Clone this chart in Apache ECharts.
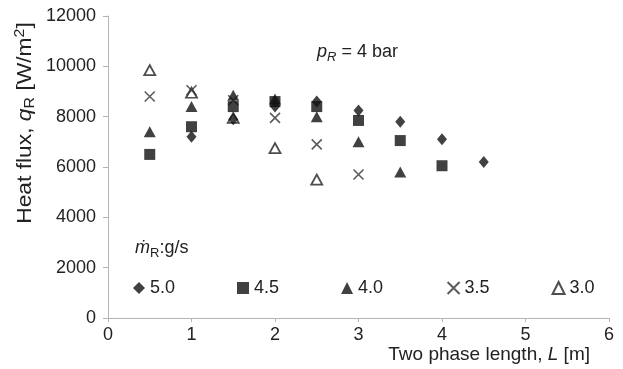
<!DOCTYPE html>
<html>
<head>
<meta charset="utf-8">
<script src="https://cdn.jsdelivr.net/npm/echarts@6/dist/echarts.min.js"></script>
<style>
  html, body { margin: 0; padding: 0; background: #fff; }
  #main { width: 623px; height: 369px; }
</style>
</head>
<body>
<div id="main"></div>
<script>
// 两相长度 L [m] 与热流密度 q_R [W/m2] 的数据
var lenFive = [1, 1.5, 2, 2.5, 3, 3.5, 4, 4.5];
var fluxFive = [7200, 7900, 8400, 8600, 8250, 7800, 7100, 6200];

var lenFourHalf = [0.5, 1, 1.5, 2, 2.5, 3, 3.5, 4];
var fluxFourHalf = [6500, 7600, 8400, 8600, 8400, 7850, 7050, 6050];

var lenFour = [0.5, 1, 1.5, 2, 2.5, 3, 3.5];
var fluxFour = [7400, 8400, 8850, 8700, 8000, 7000, 5800];

var lenThreeHalf = [0.5, 1, 1.5, 2, 2.5, 3];
var fluxThreeHalf = [8800, 9050, 8650, 7950, 6900, 5700];

var lenThree = [0.5, 1, 1.5, 2, 2.5];
var fluxThree = [9850, 8950, 7950, 6750, 5500];

var seriesNames = ['5.0', '4.5', '4.0', '3.5', '3.0'];
var xTicks = [0, 1, 2, 3, 4, 5, 6];
var yTicks = [0, 2000, 4000, 6000, 8000, 10000, 12000];

function pairs(xs, ys) {
  return xs.map(function (x, i) { return [x, ys[i]]; });
}

var crossPath = 'path://M0,0L10,10M10,0L0,10';
var fontName = '"Liberation Sans", Arial, sans-serif';
var txtColor = '#222';

var myChart = echarts.init(document.getElementById('main'));

var option = {
  animation: false,
  textStyle: { fontFamily: fontName },
  grid: { left: 108, right: 14, top: 16, bottom: 51 },
  legend: {
    data: seriesNames,
    left: 128,
    top: 274,
    itemWidth: 12,
    itemHeight: 12,
    itemGap: 62,
    textStyle: { fontSize: 18, color: txtColor, fontFamily: fontName }
  },
  xAxis: {
    type: 'value',
    min: xTicks[0],
    max: xTicks[xTicks.length - 1],
    interval: 1,
    splitLine: { show: false },
    axisLine: { lineStyle: { color: '#b4b4b4' } },
    axisTick: { length: 4, lineStyle: { color: '#b4b4b4' } },
    axisLabel: { fontSize: 18, color: txtColor, margin: 8 }
  },
  yAxis: {
    type: 'value',
    min: yTicks[0],
    max: yTicks[yTicks.length - 1],
    interval: 2000,
    splitLine: { show: false },
    axisLine: { show: true, lineStyle: { color: '#b4b4b4' } },
    axisTick: { show: true, length: 5, lineStyle: { color: '#b4b4b4' } },
    axisLabel: {
      fontSize: 18,
      color: txtColor,
      margin: 12,
      formatter: function (v) { return String(v); }
    }
  },
  graphic: [
    {
      type: 'text',
      x: 25,
      y: 123,
      rotation: Math.PI / 2,
      scaleX: 1.14,
      style: {
        text: 'Heat flux, {i|q}{sub|R} [W/m{sup|2}]',
        fontSize: 20,
        fontFamily: fontName,
        fill: txtColor,
        align: 'center',
        verticalAlign: 'middle',
        rich: {
          i: { fontSize: 20, fontStyle: 'italic', fontFamily: fontName, color: txtColor },
          sub: { fontSize: 14, fontFamily: fontName, color: txtColor, padding: [10, 0, 0, 0] },
          sup: { fontSize: 14, fontFamily: fontName, color: txtColor, padding: [0, 0, 9, 0] }
        }
      }
    },
    {
      type: 'text',
      x: 590,
      y: 355,
      style: {
        text: 'Two phase length, {i|L} [m]',
        fontSize: 19,
        fontFamily: fontName,
        fill: txtColor,
        align: 'right',
        verticalAlign: 'middle',
        rich: {
          i: { fontSize: 19, fontStyle: 'italic', fontFamily: fontName, color: txtColor }
        }
      }
    },
    {
      type: 'text',
      x: 317,
      y: 52,
      style: {
        text: '{i|p}{sub|R} = 4 bar',
        fontSize: 18,
        fontFamily: fontName,
        fill: txtColor,
        align: 'left',
        verticalAlign: 'middle',
        rich: {
          i: { fontSize: 18, fontStyle: 'italic', fontFamily: fontName, color: txtColor },
          sub: { fontSize: 13, fontStyle: 'italic', fontFamily: fontName, color: txtColor, padding: [10, 0, 0, 0] }
        }
      }
    },
    {
      type: 'text',
      x: 135,
      y: 248,
      style: {
        text: '{i|ṁ}{sub|R}:g/s',
        fontSize: 18,
        fontFamily: fontName,
        fill: txtColor,
        align: 'left',
        verticalAlign: 'middle',
        rich: {
          i: { fontSize: 18, fontStyle: 'italic', fontFamily: fontName, color: txtColor },
          sub: { fontSize: 13, fontFamily: fontName, color: txtColor, padding: [10, 0, 0, 0] }
        }
      }
    }
  ],
  series: [
    {
      name: seriesNames[0],
      type: 'scatter',
      symbol: 'diamond',
      symbolSize: [10, 12],
      itemStyle: { color: '#111' },
      z: 6,
      data: pairs(lenFive, fluxFive)
    },
    {
      name: seriesNames[1],
      type: 'scatter',
      symbol: 'rect',
      symbolSize: 11,
      itemStyle: { color: '#111' },
      z: 5,
      data: pairs(lenFourHalf, fluxFourHalf)
    },
    {
      name: seriesNames[2],
      type: 'scatter',
      symbol: 'triangle',
      symbolSize: [12, 11],
      itemStyle: { color: '#111' },
      z: 4,
      data: pairs(lenFour, fluxFour)
    },
    {
      name: seriesNames[3],
      type: 'scatter',
      symbol: crossPath,
      symbolSize: 10,
      itemStyle: { color: 'none', borderColor: '#333', borderWidth: 1.6 },
      z: 3,
      data: pairs(lenThreeHalf, fluxThreeHalf)
    },
    {
      name: seriesNames[4],
      type: 'scatter',
      symbol: 'triangle',
      symbolSize: [11, 10],
      itemStyle: { color: '#fff', borderColor: '#222', borderWidth: 1.8 },
      z: 2,
      data: pairs(lenThree, fluxThree)
    }
  ]
};

myChart.setOption(option);
</script>
</body>
</html>
